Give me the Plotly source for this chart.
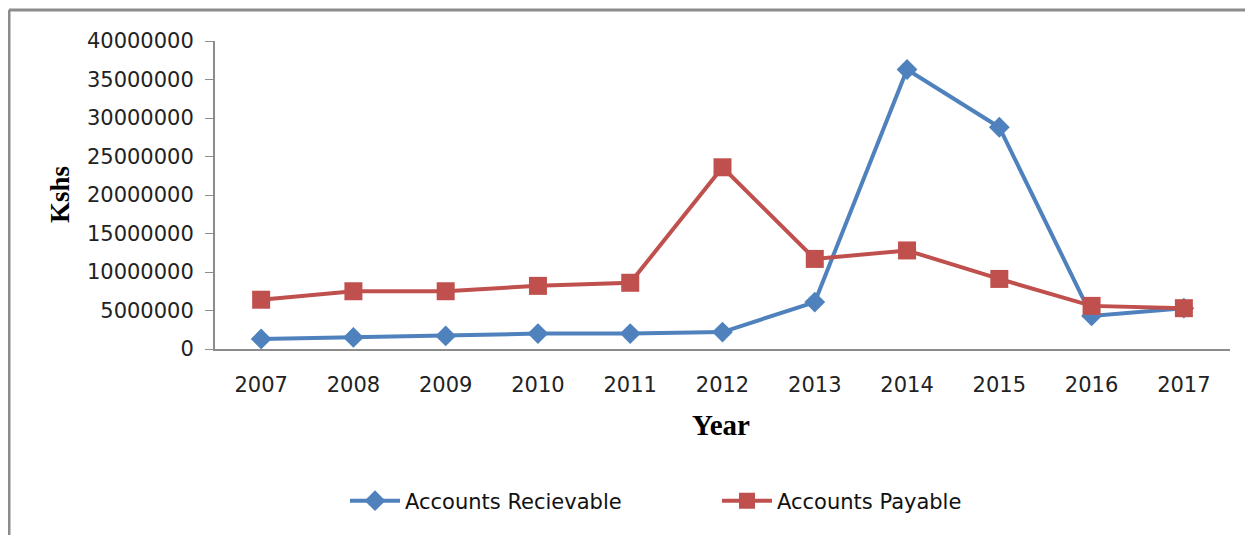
import plotly.graph_objects as go

years = ["2007", "2008", "2009", "2010", "2011", "2012", "2013", "2014", "2015", "2016", "2017"]
accounts_receivable = [1300000, 1500000, 1700000, 2000000, 2000000, 2200000, 6100000, 36300000, 28800000, 4300000, 5300000]
accounts_payable = [6400000, 7500000, 7500000, 8200000, 8600000, 23600000, 11700000, 12800000, 9100000, 5600000, 5300000]
y_ticks = [0, 5000000, 10000000, 15000000, 20000000, 25000000, 30000000, 35000000, 40000000]

BLUE = "#4F81BD"
RED = "#C0504D"
AXIS = "#8C8C8C"

fig = go.Figure()
fig.add_trace(go.Scatter(
    x=years, y=accounts_receivable, name="Accounts Recievable",
    mode="lines+markers",
    line=dict(color=BLUE, width=4),
    marker=dict(symbol="diamond", size=16, color=BLUE),
))
fig.add_trace(go.Scatter(
    x=years, y=accounts_payable, name="Accounts Payable",
    mode="lines+markers",
    line=dict(color=RED, width=4),
    marker=dict(symbol="square", size=18, color=RED),
))

# page has an 8px body margin; work in page pixel coordinates
OFF = 8
W, H = 1253, 535
L, R, T, B = 215 - OFF, 23 + OFF, 41 - OFF, 186 + OFF
pw, ph = W - L - R, H - T - B

def px(x):
    return (x - OFF - L) / pw

def py(y):
    return (H - B - (y - OFF)) / ph

fig.update_layout(
    width=W, height=H,
    margin=dict(l=L, r=R, t=T, b=B),
    paper_bgcolor="white", plot_bgcolor="white",
    font=dict(family="DejaVu Sans", size=21, color="#222222"),
    showlegend=True,
    legend=dict(
        orientation="h", x=px(345), y=py(501), xanchor="left", yanchor="middle",
        font=dict(family="DejaVu Sans", size=21, color="#111111"),
        itemwidth=50, tracegroupgap=0,
        entrywidth=307, entrywidthmode="pixels",
    ),
    xaxis=dict(
        type="category", range=[-0.5, 10.5],
        showline=True, linecolor=AXIS, linewidth=2,
        ticks="", showgrid=False, zeroline=False,
        ticklabelstandoff=16,
        tickfont=dict(family="DejaVu Sans", size=21, color="#222222"),
    ),
    yaxis=dict(
        range=[0, 40000000], tickvals=y_ticks, tickformat="d",
        showline=True, linecolor=AXIS, linewidth=2,
        ticks="outside", ticklen=8, tickcolor=AXIS, tickwidth=1,
        showgrid=False, zeroline=False,
        ticklabelstandoff=7,
        tickfont=dict(family="DejaVu Sans", size=21, color="#222222"),
    ),
    annotations=[
        dict(text="<b>Year</b>", x=px(721), y=py(425), xref="paper", yref="paper",
             xanchor="center", yanchor="middle",
             showarrow=False, font=dict(family="Liberation Serif", size=29, color="black")),
        dict(text="<b>Kshs</b>", x=px(60), y=py(195), xref="paper", yref="paper",
             xanchor="center", yanchor="middle",
             showarrow=False, textangle=-90,
             font=dict(family="Liberation Serif", size=27, color="black")),
    ],
    shapes=[
        dict(type="line", xref="paper", yref="paper", x0=px(9), x1=px(1270), y0=py(10), y1=py(10),
             line=dict(color=AXIS, width=3)),
        dict(type="line", xref="paper", yref="paper", x0=px(9), x1=px(9), y0=py(10), y1=py(560),
             line=dict(color=AXIS, width=3)),
    ],
)

fig.write_html("out.html")
